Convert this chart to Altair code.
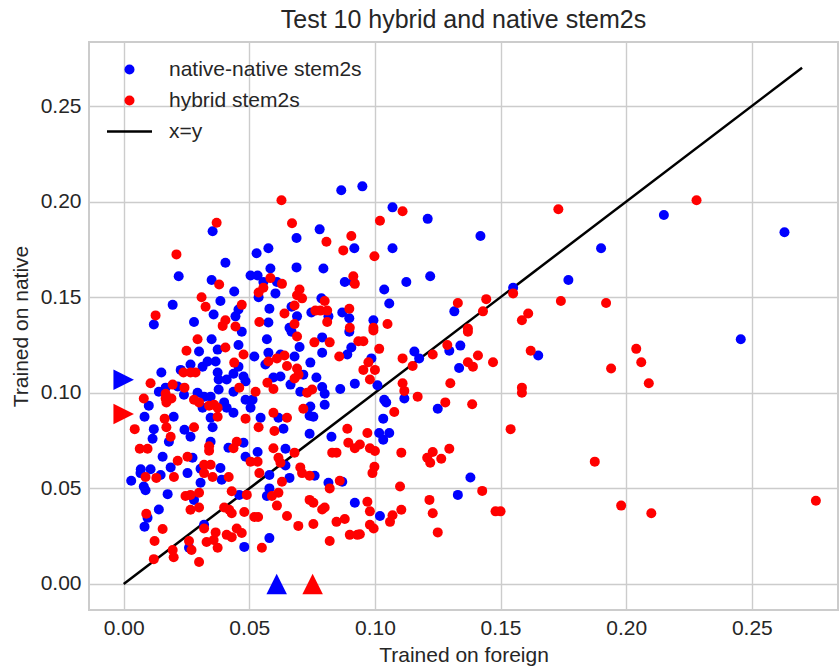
import altair as alt
import pandas as pd

NATIVE = "native-native stem2s"
HYBRID = "hybrid stem2s"
XEQY = "x=y"

# (trained on foreign, trained on native) for native-native stem2s
blue_points = [
    (0.263, 0.184), (0.2456, 0.128), (0.215, 0.193), (0.190, 0.1756), (0.177, 0.159),
    (0.165, 0.1195), (0.155, 0.155),
    (0.138, 0.0557), (0.133, 0.0466), (0.102, 0.0356),
    (0.058, 0.057), (0.076, 0.0566), (0.066, 0.0555), (0.0815, 0.053), (0.087, 0.0535),
    (0.058, 0.050), (0.057, 0.046), (0.046, 0.0466), (0.092, 0.0425), (0.058, 0.024),
    (0.048, 0.0194),
    (0.003, 0.054), (0.0067, 0.058), (0.0147, 0.057), (0.008, 0.051), (0.0087, 0.049),
    (0.0175, 0.047), (0.0254, 0.058), (0.0306, 0.053), (0.039, 0.0545), (0.028, 0.044),
    (0.014, 0.039), (0.0095, 0.0346), (0.0083, 0.030), (0.026, 0.019), (0.032, 0.031),
    (0.0986, 0.118), (0.101, 0.104), (0.1157, 0.1216), (0.1176, 0.118), (0.1296, 0.122),
    (0.134, 0.1247), (0.1335, 0.113), (0.1037, 0.0964), (0.1045, 0.0949), (0.1117, 0.097),
    (0.125, 0.0917), (0.1033, 0.0865), (0.1017, 0.079), (0.1057, 0.079), (0.1033, 0.0755),
    (0.095, 0.208), (0.107, 0.197), (0.121, 0.191), (0.142, 0.182), (0.107, 0.1756),
    (0.122, 0.161), (0.1125, 0.158), (0.1037, 0.154), (0.1057, 0.1467), (0.0994, 0.138),
    (0.1316, 0.1426),
    (0.0866, 0.206), (0.078, 0.1855), (0.0688, 0.181), (0.0918, 0.1756), (0.0576, 0.1756),
    (0.0529, 0.173), (0.0584, 0.165), (0.0688, 0.1656), (0.0795, 0.165), (0.0505, 0.1614),
    (0.0533, 0.1614), (0.0556, 0.158), (0.061, 0.158), (0.0604, 0.152), (0.044, 0.153),
    (0.0537, 0.150), (0.0787, 0.1494), (0.058, 0.144), (0.0668, 0.145), (0.069, 0.140),
    (0.0747, 0.142), (0.0815, 0.140), (0.087, 0.142), (0.0898, 0.139), (0.0576, 0.1368),
    (0.066, 0.134), (0.0457, 0.1436), (0.0445, 0.140), (0.0914, 0.158), (0.088, 0.158),
    (0.0354, 0.1845), (0.0405, 0.168), (0.0219, 0.161), (0.035, 0.159), (0.0385, 0.148),
    (0.0195, 0.146), (0.0358, 0.141), (0.012, 0.1357), (0.028, 0.137),
    (0.035, 0.128), (0.030, 0.1216), (0.0374, 0.1226), (0.0334, 0.1164), (0.0366, 0.1164),
    (0.0266, 0.1148), (0.0227, 0.112), (0.0314, 0.1137), (0.015, 0.1106), (0.0374, 0.1106),
    (0.0378, 0.107), (0.041, 0.107), (0.0215, 0.1033), (0.0167, 0.1027), (0.0294, 0.100),
    (0.0378, 0.1017), (0.014, 0.1006), (0.024, 0.099), (0.032, 0.098), (0.0346, 0.098),
    (0.040, 0.095), (0.010, 0.0933), (0.0314, 0.0922), (0.041, 0.0922), (0.0083, 0.0875),
    (0.0199, 0.0875), (0.0346, 0.087), (0.012, 0.081), (0.0242, 0.0807), (0.0354, 0.082),
    (0.0266, 0.077), (0.0115, 0.076), (0.018, 0.0744), (0.0346, 0.0744), (0.0417, 0.0713),
    (0.0155, 0.0666), (0.0274, 0.066), (0.0068, 0.060), (0.0107, 0.060), (0.0187, 0.061),
    (0.0306, 0.0603), (0.0385, 0.0607),
    (0.047, 0.132), (0.0668, 0.132), (0.057, 0.128), (0.0457, 0.125), (0.079, 0.129),
    (0.0898, 0.132), (0.0906, 0.1237), (0.070, 0.124), (0.079, 0.121), (0.089, 0.120),
    (0.0576, 0.121), (0.0624, 0.120), (0.0564, 0.1148), (0.068, 0.119), (0.052, 0.119),
    (0.0457, 0.1137), (0.0437, 0.110), (0.0477, 0.1085), (0.0485, 0.106), (0.0743, 0.1158),
    (0.0715, 0.1095), (0.0624, 0.1085), (0.0596, 0.108), (0.0767, 0.108), (0.092, 0.1048),
    (0.0862, 0.102), (0.0664, 0.1043), (0.0437, 0.1006), (0.0703, 0.1006), (0.079, 0.103),
    (0.080, 0.0995), (0.080, 0.0938), (0.0485, 0.0964), (0.0513, 0.0964), (0.0505, 0.0922),
    (0.0743, 0.0928), (0.0437, 0.0896), (0.0545, 0.087), (0.0616, 0.087), (0.074, 0.088),
    (0.0755, 0.0875), (0.0636, 0.0812), (0.074, 0.0786), (0.0827, 0.077), (0.0644, 0.0707),
    (0.0533, 0.069), (0.0485, 0.0666), (0.0477, 0.0739), (0.0644, 0.062),
]

# (trained on foreign, trained on native) for hybrid stem2s
red_points = [
    (0.173, 0.196), (0.228, 0.2007), (0.155, 0.152), (0.174, 0.148), (0.192, 0.147),
    (0.161, 0.1415), (0.1585, 0.138), (0.162, 0.122), (0.204, 0.123), (0.206, 0.116),
    (0.194, 0.1127), (0.209, 0.105), (0.1585, 0.1027), (0.1585, 0.100), (0.154, 0.081),
    (0.1875, 0.064), (0.198, 0.041), (0.210, 0.037), (0.2755, 0.0435), (0.150, 0.038),
    (0.099, 0.058), (0.110, 0.051), (0.1217, 0.044), (0.1427, 0.0487), (0.148, 0.038),
    (0.097, 0.043), (0.098, 0.038), (0.107, 0.036), (0.106, 0.0325), (0.1105, 0.0388),
    (0.123, 0.037), (0.125, 0.027), (0.098, 0.031), (0.0995, 0.029), (0.094, 0.026),
    (0.054, 0.058), (0.071, 0.058), (0.074, 0.0566), (0.063, 0.0535), (0.082, 0.050),
    (0.086, 0.054), (0.0616, 0.0477), (0.059, 0.046), (0.049, 0.0466), (0.043, 0.0485),
    (0.061, 0.041), (0.074, 0.044), (0.0755, 0.0425), (0.080, 0.040), (0.079, 0.039),
    (0.065, 0.0356), (0.043, 0.037), (0.048, 0.0377), (0.052, 0.035), (0.0535, 0.035),
    (0.0695, 0.0304), (0.0755, 0.0314), (0.0847, 0.0325), (0.088, 0.034), (0.045, 0.029),
    (0.047, 0.0267), (0.043, 0.0245), (0.055, 0.019), (0.082, 0.0225), (0.090, 0.0257),
    (0.093, 0.0257),
    (0.0087, 0.056), (0.013, 0.0555), (0.020, 0.056), (0.032, 0.058), (0.0354, 0.056),
    (0.0418, 0.056), (0.0246, 0.046), (0.0266, 0.0466), (0.030, 0.0477), (0.0266, 0.0388),
    (0.030, 0.040), (0.009, 0.0367), (0.0155, 0.0288), (0.0123, 0.0225), (0.0195, 0.0178),
    (0.0199, 0.014), (0.012, 0.013), (0.026, 0.0225), (0.027, 0.0178), (0.030, 0.0115),
    (0.032, 0.029), (0.0366, 0.027), (0.0358, 0.023), (0.033, 0.022), (0.0374, 0.019),
    (0.041, 0.0257), (0.040, 0.040), (0.042, 0.0388),
    (0.0994, 0.1326), (0.0954, 0.127), (0.1017, 0.123), (0.0974, 0.116), (0.0954, 0.112),
    (0.100, 0.112), (0.098, 0.107), (0.111, 0.118), (0.115, 0.114), (0.123, 0.120),
    (0.1288, 0.125), (0.137, 0.132), (0.141, 0.1195), (0.137, 0.116), (0.139, 0.1137),
    (0.147, 0.116), (0.130, 0.105), (0.111, 0.105), (0.1117, 0.101), (0.117, 0.098),
    (0.128, 0.095), (0.1387, 0.094), (0.1077, 0.090), (0.097, 0.079), (0.098, 0.071),
    (0.100, 0.0696), (0.1105, 0.0687), (0.123, 0.069), (0.1296, 0.0707), (0.1208, 0.066),
    (0.122, 0.0634), (0.1264, 0.0655), (0.0998, 0.0613), (0.094, 0.073),
    (0.111, 0.195), (0.102, 0.190), (0.0998, 0.1714), (0.0994, 0.134), (0.105, 0.136),
    (0.133, 0.147), (0.1443, 0.149), (0.143, 0.1426), (0.137, 0.1336),
    (0.0628, 0.2007), (0.067, 0.1887), (0.0807, 0.179), (0.0906, 0.182), (0.0874, 0.1745),
    (0.0584, 0.160), (0.063, 0.157), (0.0556, 0.155), (0.0537, 0.1525), (0.070, 0.154),
    (0.069, 0.151), (0.071, 0.1494), (0.080, 0.148), (0.047, 0.146), (0.068, 0.1457),
    (0.064, 0.1415), (0.0763, 0.143), (0.0783, 0.143), (0.081, 0.143), (0.0898, 0.144),
    (0.090, 0.134), (0.054, 0.137), (0.068, 0.136), (0.081, 0.137), (0.0445, 0.1347),
    (0.0914, 0.161), (0.092, 0.157),
    (0.037, 0.189), (0.021, 0.1724), (0.038, 0.1567), (0.031, 0.150), (0.0326, 0.145),
    (0.0127, 0.1405), (0.0405, 0.138), (0.0394, 0.135),
    (0.0294, 0.128), (0.025, 0.122), (0.0405, 0.1237), (0.0238, 0.1106), (0.0266, 0.1106),
    (0.0286, 0.1106), (0.0107, 0.105), (0.0195, 0.1043), (0.0242, 0.1027), (0.0167, 0.0995),
    (0.008, 0.097), (0.0167, 0.097), (0.019, 0.097), (0.017, 0.0949), (0.028, 0.0964),
    (0.030, 0.095), (0.034, 0.0933), (0.036, 0.0938), (0.0374, 0.0922), (0.0374, 0.0875),
    (0.0163, 0.0865), (0.0044, 0.081), (0.017, 0.082), (0.028, 0.082), (0.0187, 0.077),
    (0.034, 0.072), (0.0064, 0.0707), (0.0095, 0.0707), (0.034, 0.0697), (0.0215, 0.0645),
    (0.0254, 0.0666), (0.032, 0.0624), (0.0346, 0.0624),
    (0.069, 0.1295), (0.0759, 0.1264), (0.082, 0.1264), (0.0934, 0.127), (0.0858, 0.119),
    (0.064, 0.1195), (0.061, 0.118), (0.0576, 0.1164), (0.065, 0.114), (0.0477, 0.120),
    (0.044, 0.1158), (0.069, 0.1127), (0.0696, 0.1095), (0.068, 0.1075), (0.0572, 0.1053),
    (0.0596, 0.102), (0.0525, 0.1006), (0.046, 0.1027), (0.075, 0.1017), (0.073, 0.100),
    (0.0715, 0.0917), (0.0596, 0.0896), (0.0485, 0.0865), (0.065, 0.087), (0.0537, 0.082),
    (0.060, 0.080), (0.089, 0.0812), (0.0894, 0.0739), (0.092, 0.071), (0.083, 0.0687),
    (0.0847, 0.0687), (0.068, 0.0687), (0.0596, 0.071), (0.0616, 0.066), (0.045, 0.0744),
    (0.0437, 0.071), (0.0505, 0.064), (0.0533, 0.064), (0.0624, 0.0634), (0.0703, 0.061),
]

# mean markers
native_mean = (0.0609, 0.1068)
hybrid_mean = (0.0752, 0.0889)

line_x = [0.0, 0.27]
line_y = [0.0, 0.27]

tick_values = [0.0, 0.05, 0.10, 0.15, 0.20, 0.25]
x_domain = [-0.0138, 0.2843]
y_domain = [-0.0136, 0.2835]

FONT = "Liberation Sans"
TXT = "#262626"
BLUE = "#0000ff"
RED = "#ff0000"

pts = pd.DataFrame(
    [(x, y, NATIVE) for x, y in blue_points] + [(x, y, HYBRID) for x, y in red_points],
    columns=["x", "y", "series"],
)
line_df = pd.DataFrame({"x": line_x, "y": line_y})

xs = alt.Scale(domain=x_domain, nice=False, zero=False)
ys = alt.Scale(domain=y_domain, nice=False, zero=False)

x_axis = alt.Axis(values=tick_values, format=".2f", title="Trained on foreign",
                  labelPadding=7, titlePadding=6)
y_axis = alt.Axis(values=tick_values, format=".2f", title="Trained on native",
                  labelPadding=8, titlePadding=9)

domain = [NATIVE, HYBRID, XEQY]
color_scale = alt.Scale(domain=domain, range=[BLUE, RED, "black"])
# legend glyph for x=y: a wide thin bar (unit = half of the point size)
LINE_GLYPH = "M-4.5,-0.25L4.5,-0.25L4.5,0.25L-4.5,0.25Z"
shape_scale = alt.Scale(domain=domain, range=["circle", "circle", LINE_GLYPH])

legend = alt.Legend(title=None, orient="none", legendX=30, legendY=17,
                    labelFont=FONT, labelFontSize=21, labelColor=TXT, labelLimit=0,
                    symbolStrokeWidth=0, symbolOpacity=1, symbolSize=100,
                    rowPadding=9, labelOffset=29, padding=0)

line = alt.Chart(line_df).mark_line(color="black", strokeWidth=2.5).encode(
    x=alt.X("x:Q", scale=xs, axis=x_axis),
    y=alt.Y("y:Q", scale=ys, axis=y_axis),
)

points = alt.Chart(pts).mark_point(filled=True, opacity=1, strokeWidth=0, size=100).encode(
    x=alt.X("x:Q", scale=xs, axis=x_axis),
    y=alt.Y("y:Q", scale=ys, axis=y_axis),
    color=alt.Color("series:N", scale=color_scale, legend=legend, sort=domain),
    shape=alt.Shape("series:N", scale=shape_scale, legend=legend, sort=domain),
)

UP = "M0,-1L1,1L-1,1Z"
RIGHT = "M1,0L-1,-1L-1,1Z"


def tri(x, y, path, color):
    df = pd.DataFrame({"x": [x], "y": [y]})
    return alt.Chart(df).mark_point(shape=path, filled=True, color=color, size=420,
                                    opacity=1, strokeWidth=0).encode(
        x=alt.X("x:Q", scale=xs, axis=x_axis),
        y=alt.Y("y:Q", scale=ys, axis=y_axis),
    )


tris = [
    tri(0.0, native_mean[1], RIGHT, BLUE),
    tri(0.0, hybrid_mean[1], RIGHT, RED),
    tri(native_mean[0], 0.0, UP, BLUE),
    tri(hybrid_mean[0], 0.0, UP, RED),
]

chart = alt.layer(line, points, *tris).properties(
    width=749, height=568,
    padding={"left": 89, "top": 42, "right": 2, "bottom": 56},
    autosize="none",
    title=alt.Title("Test 10 hybrid and native stem2s", font=FONT, fontSize=25,
                    fontWeight="normal", color=TXT, offset=9, anchor="middle"),
).configure_view(
    stroke="#cccccc", strokeWidth=2
).configure_axis(
    labelFont=FONT, labelFontSize=21, labelColor=TXT,
    titleFont=FONT, titleFontSize=21, titleColor=TXT, titleFontWeight="normal",
    tickSize=0, domain=False, gridColor="#cccccc", gridWidth=1.4, gridOpacity=1,
)

chart.save("out.html", embed_options={"renderer": "svg", "actions": False})
